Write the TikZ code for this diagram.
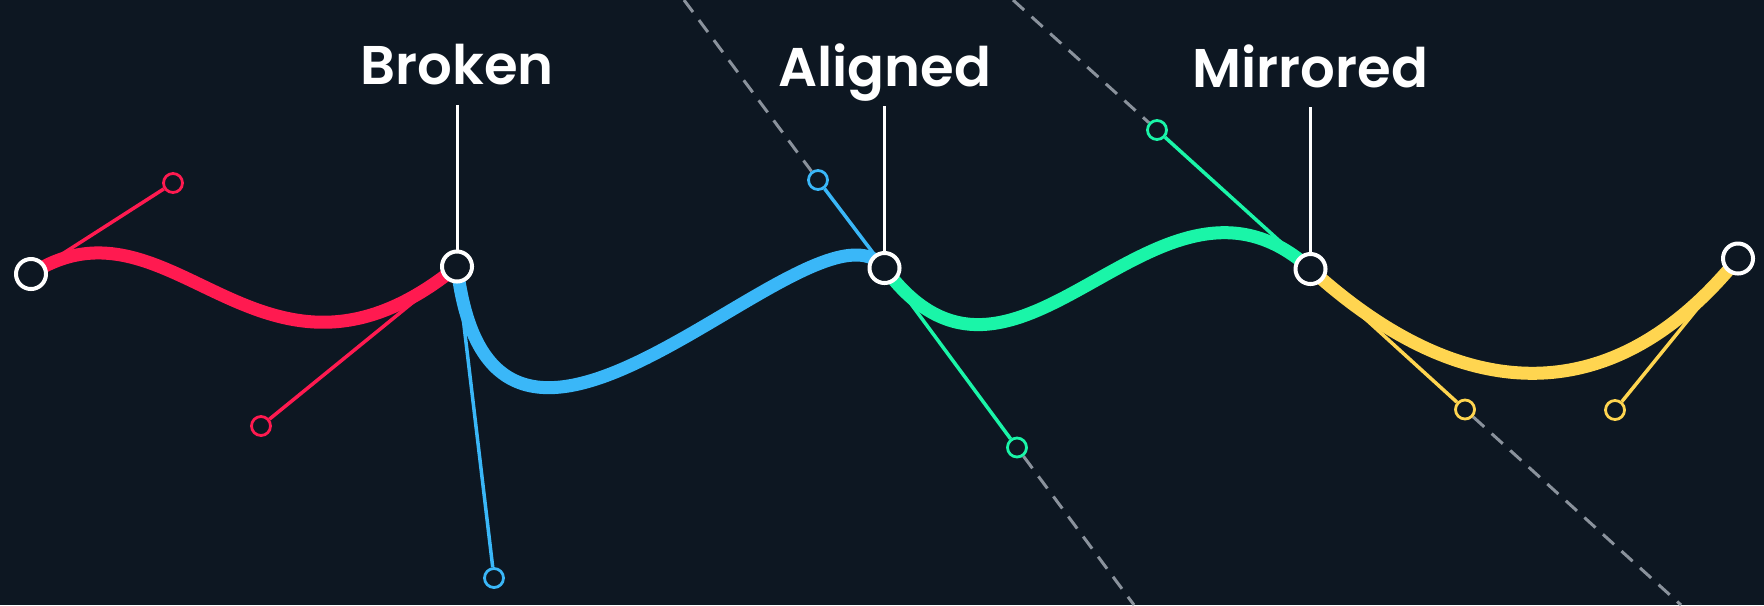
\documentclass[tikz,border=0pt]{standalone}
\usepackage{fontspec}
\newfontfamily\labelfont{Poppins}[BoldFont={Poppins SemiBold}]
\usetikzlibrary{positioning}
\pgfdeclarelayer{bg}
\pgfsetlayers{bg,main}
\definecolor{bezBg}{RGB}{13,23,34}
\definecolor{bezRed}{RGB}{255,26,80}
\definecolor{bezBlue}{RGB}{58,183,248}
\definecolor{bezGreen}{RGB}{26,245,168}
\definecolor{bezYellow}{RGB}{255,213,80}
\definecolor{bezGuide}{RGB}{138,146,156}

\begin{document}
\begin{tikzpicture}[x=0.01cm, y=-0.01cm, line cap=butt, line join=round,
    anchorpt/.style={circle, draw=white, fill=bezBg, line width=0.04cm, minimum size=0.30cm, inner sep=0pt},
    handlept/.style={circle, draw=#1, fill=bezBg, line width=0.028cm, minimum size=0.19cm, inner sep=0pt},
    handleline/.style={draw=#1, line width=0.035cm},
    segment/.style={draw=#1, line width=0.13cm},
    guide/.style={draw=bezGuide, line width=0.03cm, dash pattern=on 0.15cm off 0.10cm},
    lbl/.style={font=\labelfont\bfseries\fontsize{15.5pt}{18pt}\selectfont, text=white, inner sep=0pt, text depth=5.5pt},
    leader/.style={draw=white, line width=0.03cm}]
        \useasboundingbox (0,0) rectangle (1764,605);
        % anchor points
        \node[anchorpt] (p0) at (31,274) {};
        \node[anchorpt] (p1) at (457,266.5) {};
        \node[anchorpt] (p2) at (884.5,268) {};
        \node[anchorpt] (p3) at (1310.5,269) {};
        \node[anchorpt] (p4) at (1738,258.5) {};
        % handles
        \node[handlept=bezRed] (h0) at (173,183) {};
        \node[handlept=bezRed] (h1a) at (261,426) {};
        \node[handlept=bezBlue] (h1b) at (494,578) {};
        \node[handlept=bezBlue] (h2a) at (818,180) {};
        \node[handlept=bezGreen] (h2b) at (1017,447.5) {};
        \node[handlept=bezGreen] (h3a) at (1157,130) {};
        \node[handlept=bezYellow] (h3b) at (1465,409.5) {};
        \node[handlept=bezYellow] (h4a) at (1615,410) {};
        % labels
        \node[lbl, above=1.445cm of p1] (lbBroken) {Broken};
        \node[lbl, above=1.445cm of p2] (lbAligned) {Aligned};
        \node[lbl, above=1.445cm of p3] (lbMirrored) {Mirrored};
        \coordinate (gA1) at (684,0);
        \coordinate (gA2) at (1134,605);
        \coordinate (gM1) at (1013,0);
        \coordinate (gM2) at (1681,605);
        \begin{pgfonlayer}{bg}
            \fill[bezBg] (0,0) rectangle (1764,605);
            \draw[guide] (gA1) -- (h2a);
            \draw[guide] (h2b) -- (gA2);
            \draw[guide] (gM1) -- (h3a);
            \draw[guide] (h3b) -- (gM2);
            \draw[segment=bezRed] (p0.center) .. controls (h0.center) and (h1a.center) .. (p1.center);
            \draw[segment=bezBlue] (p1.center) .. controls (h1b.center) and (h2a.center) .. (p2.center);
            \draw[segment=bezGreen] (p2.center) .. controls (h2b.center) and (h3a.center) .. (p3.center);
            \draw[segment=bezYellow] (p3.center) .. controls (h3b.center) and (h4a.center) .. (p4.center);
            \draw[handleline=bezRed] (p0) -- (h0);
            \draw[handleline=bezRed] (p1) -- (h1a);
            \draw[handleline=bezBlue] (p1) -- (h1b);
            \draw[handleline=bezBlue] (p2) -- (h2a);
            \draw[handleline=bezGreen] (p2) -- (h2b);
            \draw[handleline=bezGreen] (p3) -- (h3a);
            \draw[handleline=bezYellow] (p3) -- (h3b);
            \draw[handleline=bezYellow] (p4) -- (h4a);
            \draw[leader] (lbBroken) -- (p1);
            \draw[leader] (lbAligned) -- (p2);
            \draw[leader] (lbMirrored) -- (p3);
        \end{pgfonlayer}
\end{tikzpicture}
\end{document}
